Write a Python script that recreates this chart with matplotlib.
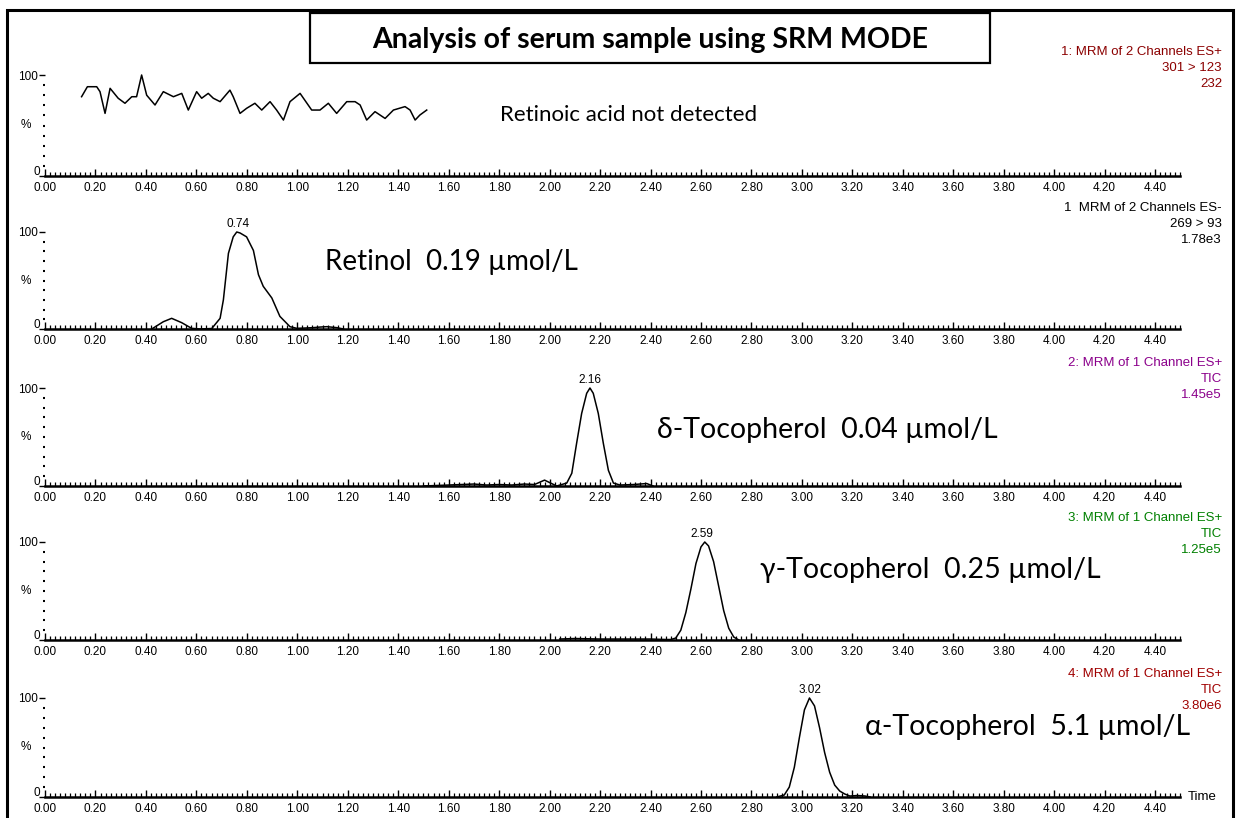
import matplotlib
matplotlib.use("Agg")
import matplotlib.pyplot as plt
from matplotlib.patches import Rectangle
import numpy as np

W, H = 1241, 818

# ---------------- data ----------------
tick_labels = ["0.00", "0.20", "0.40", "0.60", "0.80", "1.00", "1.20", "1.40", "1.60", "1.80",
               "2.00", "2.20", "2.40", "2.60", "2.80", "3.00", "3.20", "3.40", "3.60", "3.80",
               "4.00", "4.20", "4.40"]
tick_values = [0.0, 0.2, 0.4, 0.6, 0.8, 1.0, 1.2, 1.4, 1.6, 1.8, 2.0, 2.2, 2.4, 2.6, 2.8,
               3.0, 3.2, 3.4, 3.6, 3.8, 4.0, 4.2, 4.4]

# Panel 1: retinoic acid (noise only)
ra_t = [0.145, 0.168, 0.205, 0.218, 0.238, 0.258, 0.290, 0.317, 0.344, 0.363, 0.383, 0.403,
        0.436, 0.469, 0.509, 0.542, 0.568, 0.601, 0.621, 0.647, 0.667, 0.694, 0.733, 0.746,
        0.773, 0.799, 0.832, 0.859, 0.892, 0.918, 0.945, 0.971, 1.011, 1.057, 1.090, 1.123,
        1.156, 1.196, 1.229, 1.249, 1.275, 1.308, 1.348, 1.381, 1.427, 1.447, 1.467, 1.486, 1.513]
ra_v = [78.5, 88.4, 88.4, 83.5, 62.0, 86.8, 77.0, 72.0, 78.5, 78.5, 100.0, 80.0,
        70.3, 83.5, 78.5, 81.8, 65.3, 83.5, 77.0, 81.8, 77.0, 73.6, 85.0, 78.5,
        62.0, 67.0, 72.0, 65.3, 73.6, 65.3, 55.4, 73.6, 81.8, 65.3, 65.3, 72.0,
        62.0, 73.6, 73.6, 70.3, 55.4, 63.7, 57.0, 65.3, 68.7, 65.3, 55.4, 60.4, 65.3]

# Panel 2: retinol
ret_t = [0.423, 0.469, 0.502, 0.542, 0.581, 0.614, 0.661, 0.694, 0.707, 0.727, 0.746, 0.760,
         0.773, 0.799, 0.826, 0.846, 0.865, 0.899, 0.931, 0.971, 0.998, 1.030, 1.063, 1.090,
         1.117, 1.156, 1.183]
ret_v = [0.0, 7.5, 11.0, 6.5, 0.7, 0.0, 0.5, 11.0, 30.0, 78.0, 95.0, 100.0,
         99.0, 95.0, 81.0, 56.0, 44.0, 32.0, 13.0, 2.4, 0.7, 1.0, 1.4, 2.0,
         2.4, 1.4, 0.0]

# Panel 3: delta-tocopherol
dt_t = [1.50, 1.55, 1.60, 1.65, 1.70, 1.75, 1.80, 1.85, 1.90, 1.94, 1.98, 2.028, 2.068,
        2.088, 2.107, 2.127, 2.147, 2.160, 2.173, 2.193, 2.213, 2.233, 2.253, 2.279, 2.332,
        2.385, 2.41]
dt_v = [0.0, 0.5, 1.0, 1.5, 2.0, 1.0, 1.5, 1.0, 2.0, 1.5, 6.0, 0.0, 3.0,
        13.0, 43.5, 74.0, 94.6, 100.0, 94.6, 74.0, 43.5, 16.0, 3.0, 1.0, 1.5,
        2.5, 0.0]

# Panel 4: gamma-tocopherol
gt_t = [2.04, 2.10, 2.20, 2.30, 2.40, 2.46, 2.48, 2.50, 2.52, 2.54, 2.56, 2.58, 2.60, 2.615,
        2.63, 2.65, 2.67, 2.69, 2.71, 2.73, 2.75]
gt_v = [1.0, 1.5, 1.0, 1.0, 1.0, 0.5, 0.5, 2.0, 10.0, 28.0, 52.0, 78.0, 95.0, 100.0,
        96.0, 80.0, 55.0, 30.0, 12.0, 3.0, 0.0]

# Panel 5: alpha-tocopherol
at_t = [2.90, 2.93, 2.95, 2.97, 2.99, 3.01, 3.03, 3.05, 3.07, 3.09, 3.11, 3.13, 3.15, 3.17,
        3.19, 3.22, 3.25, 3.27]
at_v = [0.0, 2.0, 10.0, 30.0, 60.0, 88.0, 100.0, 92.0, 70.0, 45.0, 25.0, 12.0, 6.0, 3.0,
        1.0, 1.5, 1.0, 0.0]

peak_labels = [None, "0.74", "2.16", "2.59", "3.02"]
peak_pos = [None, 0.765, 2.160, 2.605, 3.03]

compound_texts = ["Retinoic acid not detected",
                  "Retinol  0.19 \u00b5mol/L",
                  "\u03b4-Tocopherol  0.04 \u00b5mol/L",
                  "\u03b3-Tocopherol  0.25 \u00b5mol/L",
                  "\u03b1-Tocopherol  5.1 \u00b5mol/L"]

channel_info = [["1: MRM of 2 Channels ES+", "301 > 123", "232"],
                ["1  MRM of 2 Channels ES-", "269 > 93", "1.78e3"],
                ["2: MRM of 1 Channel ES+", "TIC", "1.45e5"],
                ["3: MRM of 1 Channel ES+", "TIC", "1.25e5"],
                ["4: MRM of 1 Channel ES+", "TIC", "3.80e6"]]
channel_colors = ["#8b0000", "#000000", "#8b008b", "#008000", "#a00000"]

series = [(ra_t, ra_v), (ret_t, ret_v), (dt_t, dt_v), (gt_t, gt_v), (at_t, at_v)]

# ---------------- layout (pixel positions) ----------------
y0_px = [176, 329, 486, 640, 797]
y100_px = [75, 232, 388, 542, 698]
x0_px = 45
px_per_unit = 252.3
xmax = 4.5
text_pos = [(500, 115, 16), (325, 262, 20), (657, 430, 20.5), (760, 570, 20.5), (865, 727, 20.5)]
info_y = [52, 208, 363, 518, 674]

fig = plt.figure(figsize=(W / 100, H / 100), dpi=100)
fig.patch.set_facecolor("white")

big_font = ["Lato", "Open Sans", "DejaVu Sans"]
small_font = ["Liberation Sans", "DejaVu Sans"]
small_fs = 8.5

for i, (t, v) in enumerate(series):
    left = x0_px / W
    width = xmax * px_per_unit / W
    bottom = 1 - y0_px[i] / H
    height = (y0_px[i] - y100_px[i]) / H
    ax = fig.add_axes([left, bottom, width, height])
    ax.set_facecolor("none")
    ax.plot(t, v, color="black", lw=1.1, clip_on=False)
    ax.set_xlim(0, xmax)
    ax.set_ylim(0, 100)
    for s in ["top", "right", "left"]:
        ax.spines[s].set_visible(False)
    ax.spines["bottom"].set_linewidth(1.8)
    ax.set_xticks(tick_values)
    ax.set_xticklabels(tick_labels, fontsize=small_fs, family=small_font)
    ax.set_xticks(np.arange(0, xmax + 0.001, 0.02), minor=True)
    ax.tick_params(axis="x", which="major", direction="in", length=5, width=1.0, pad=4)
    ax.tick_params(axis="x", which="minor", direction="in", length=3, width=0.9)
    ax.set_yticks([0, 100])
    ax.set_yticklabels(["", "100"], fontsize=small_fs, family=small_font)
    ax.set_yticks(np.arange(10, 100, 10), minor=True)
    ax.tick_params(axis="y", which="major", direction="out", length=4, width=1.0, pad=1)
    ax.tick_params(axis="y", which="minor", direction="out", length=1.5, width=1.5)
    ax.text(-0.012, 50, "%", transform=ax.get_yaxis_transform(), ha="right", va="center",
            fontsize=small_fs, family=small_font)
    ax.text(-0.0045, 4, "0", transform=ax.get_yaxis_transform(), ha="right", va="center",
            fontsize=small_fs, family=small_font)
    if peak_labels[i]:
        ax.text(peak_pos[i], 102, peak_labels[i], ha="center", va="bottom", fontsize=small_fs,
                family=small_font)
    # compound text
    tx, ty, fs = text_pos[i]
    fig.text(tx / W, 1 - ty / H, compound_texts[i], ha="left", va="center", fontsize=fs,
             family=big_font)
    # channel info
    for k, line in enumerate(channel_info[i]):
        fig.text(1222 / W, 1 - (info_y[i] + 16 * k) / H, line, ha="right", va="center",
                 fontsize=9.5, family=small_font, color=channel_colors[i])

fig.text(1188 / W, 1 - 797 / H, "Time", ha="left", va="center", fontsize=9.5, family=small_font)

# title box
fig.patches.append(Rectangle((310 / W, 1 - 63 / H), 680 / W, 50 / H, transform=fig.transFigure,
                             fill=False, edgecolor="black", lw=1.6))
fig.text(650 / W, 1 - 40 / H, "Analysis of serum sample using SRM MODE", ha="center",
         va="center", fontsize=20.5, fontweight="bold", family=big_font)

# outer frame
fig.patches.append(Rectangle((7 / W, -0.05), 1226 / W, 1 - 10 / H + 0.05,
                             transform=fig.transFigure, fill=False, edgecolor="black", lw=2.2))

fig.savefig("out.png", dpi=100)
